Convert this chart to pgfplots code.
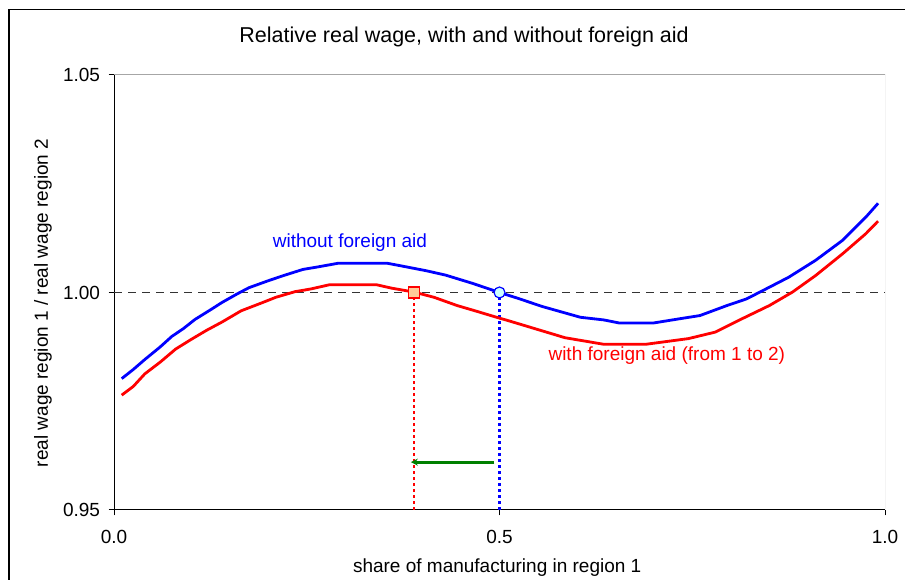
\documentclass[border=0pt]{standalone}
\usepackage{fontspec}
\setmainfont{Liberation Sans}
\usepackage{pgfplots}
\pgfplotsset{compat=1.18}
\usetikzlibrary{arrows.meta}
\definecolor{aidgreen}{RGB}{0,128,0}
\definecolor{peach}{RGB}{255,204,153}
\definecolor{lightcyan}{RGB}{204,255,255}
\begin{document}
\begin{tikzpicture}[x=1bp,y=1bp]
\useasboundingbox (0,0) rectangle (905,580);
\draw[line width=1.5bp] (9,-5) -- (9,570.5) -- (910,570.5);
\begin{axis}[
  at={(114bp,70bp)}, anchor=south west, scale only axis,
  width=771bp, height=435bp,
  xmin=0, xmax=1, ymin=0.95, ymax=1.05,
  axis lines=left, axis line style={-, line width=1bp, black},
  xtick={0,0.5,1}, ytick={0.95,1.0,1.05},
  tick align=outside, major tick length=5.5bp,
  tick style={black, line width=1bp},
  /pgf/number format/assume math mode=true,
  x tick label style={/pgf/number format/fixed, /pgf/number format/fixed zerofill, /pgf/number format/precision=1, yshift=-11bp},
  y tick label style={/pgf/number format/fixed, /pgf/number format/fixed zerofill, /pgf/number format/precision=2, xshift=-5bp},
  tick label style={font=\fontsize{19bp}{22bp}\selectfont},
  label style={font=\fontsize{19bp}{22bp}\selectfont},
  title={Relative real wage, with and without foreign aid},
  title style={at={(axis description cs:0.454,1.0736)}, anchor=center, font=\fontsize{21.5bp}{25bp}\selectfont},
  xlabel={share of manufacturing in region 1},
  xlabel style={at={(axis description cs:0.497,-0.133)}, anchor=center},
  ylabel={real wage region 1 / real wage region 2},
  ylabel style={at={(axis description cs:-0.092,0.476)}, anchor=center},
]
\draw[gray!70, line width=1bp] (rel axis cs:0,1) -- (rel axis cs:1,1) -- (rel axis cs:1,0);
\addplot[black!80, line width=1bp, dash pattern=on 8bp off 6bp] coordinates {(0,1) (1,1)};
\addplot[red, line width=2.2bp, dash pattern=on 3bp off 3bp] coordinates {(0.389,0.95) (0.389,1.0)};
\addplot[blue, line width=2.2bp, dash pattern=on 3bp off 3bp] coordinates {(0.5,0.95) (0.5,1.0)};
\addplot[aidgreen, line width=2.8bp, -{Stealth[length=7bp,width=7bp]}] coordinates {(0.4935,0.961) (0.385,0.961)};
% without foreign aid
\addplot[blue, line width=2.8bp] coordinates {
(0.01,0.9802) (0.025,0.9823) (0.04,0.9846) (0.06,0.9875) (0.075,0.9899)
(0.09,0.9917) (0.105,0.9938) (0.125,0.9960) (0.14,0.9977) (0.16,0.9997)
(0.175,1.0011) (0.2,1.0027) (0.22,1.0039) (0.245,1.0053) (0.265,1.0059)
(0.29,1.0067) (0.355,1.0067) (0.37,1.0062) (0.405,1.0050) (0.43,1.0040)
(0.465,1.0021) (0.5,1.0000) (0.525,0.9986) (0.555,0.9968) (0.585,0.9953)
(0.605,0.9943) (0.635,0.9937) (0.655,0.9930) (0.70,0.9930) (0.735,0.9940)
(0.76,0.9947) (0.795,0.9970) (0.82,0.9985) (0.84,1.0003) (0.875,1.0035)
(0.91,1.0074) (0.945,1.0120) (0.975,1.0173) (0.991,1.0205)};
% with foreign aid
\addplot[red, line width=2.8bp] coordinates {
(0.01,0.9764) (0.025,0.9784) (0.04,0.9813) (0.06,0.9840) (0.08,0.9870)
(0.10,0.9892) (0.12,0.9913) (0.14,0.9932) (0.165,0.9958) (0.19,0.9975)
(0.21,0.9989) (0.235,1.0002) (0.255,1.0008) (0.28,1.0018) (0.34,1.0018)
(0.36,1.0010) (0.389,1.0001) (0.415,0.9989) (0.445,0.9970) (0.47,0.9957)
(0.50,0.9941) (0.51,0.9936) (0.54,0.9920) (0.585,0.9896) (0.635,0.9881)
(0.69,0.9881) (0.745,0.9894) (0.78,0.9909) (0.815,0.9940) (0.85,0.9970)
(0.88,1.0001) (0.91,1.0039) (0.945,1.0089) (0.975,1.0135) (0.991,1.0164)};
\addplot[only marks, mark=square*, mark size=5.5bp, mark options={fill=peach, draw=red, line width=1.2bp}] coordinates {(0.389,1.0)};
\addplot[only marks, mark=*, mark size=5.5bp, mark options={fill=lightcyan, draw=blue, line width=1.2bp}] coordinates {(0.5,1.0)};
\node[blue, font=\fontsize{19bp}{22bp}\selectfont] at (axis cs:0.306,1.0114) {without foreign aid};
\node[red, font=\fontsize{19bp}{22bp}\selectfont] at (axis cs:0.717,0.9854) {with foreign aid (from 1 to 2)};
\end{axis}
\end{tikzpicture}
\end{document}
